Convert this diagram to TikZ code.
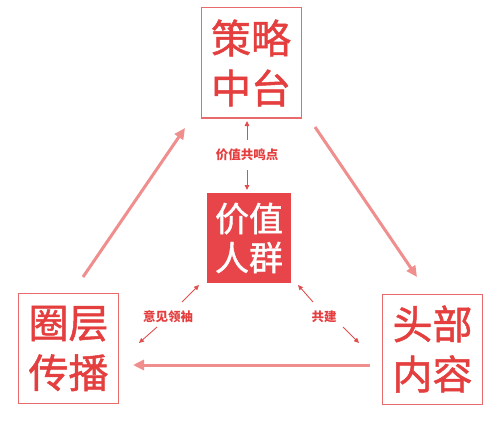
\documentclass[tikz,border=0pt]{standalone}
\usepackage{fontspec}
\newfontfamily\cjk[FakeBold=1.2]{Noto Sans CJK SC}
\newfontfamily\cjklab{Noto Sans CJK SC}
\usetikzlibrary{arrows.meta}
\definecolor{txtred}{HTML}{E53E3E}
\definecolor{boxred}{HTML}{E86A6A}
\definecolor{fillred}{HTML}{E8454A}
\definecolor{bigarr}{HTML}{F08E8E}
\definecolor{smallarr}{HTML}{E04E4E}
\tikzset{
  outer/.style={draw=boxred, line width=1pt, minimum width=100pt, minimum height=110pt, inner sep=0pt, text=txtred, align=center, font={\cjk\fontsize{40}{50}\selectfont}},
  inner/.style={fill=fillred, minimum width=84pt, minimum height=90pt, inner sep=0pt, text=white, align=center, font={\cjk\fontsize{34}{39}\selectfont}},
  lab/.style={text=txtred, inner sep=1pt, font={\cjklab\bfseries\fontsize{12.5}{14}\selectfont}},
  bigarrow/.style={draw=bigarr, line width=3pt, -{Triangle[length=11pt,width=10pt]}},
  smallarrow/.style={draw=smallarr, line width=0.9pt, -{Triangle[length=5pt,width=4.5pt]}}
}
\begin{document}
\begin{tikzpicture}[x=1pt,y=-1pt]
\useasboundingbox[fill=white] (0,0) rectangle (500,425);
\node[outer] (top) at (251,63) {策略\\中台};
\node[outer] (left) at (68.5,348.5) {圈层\\传播};
\node[outer] (right) at (432.5,349) {头部\\内容};
\node[inner] (mid) at (249,238) {价值\\人群};
% big cycle arrows
\coordinate (l1) at (83,277); \coordinate (l2) at (185,128);
\coordinate (r1) at (315,127); \coordinate (r2) at (417,277);
\coordinate (h1) at (370,365); \coordinate (h2) at (133,365);
\draw[bigarrow] (l1) -- (l2);
\draw[bigarrow] (r1) -- (r2);
\draw[bigarrow] (h1) -- (h2);
% labels
\node[lab] (lt) at (247,155) {价值共鸣点};
\node[lab] (ll) at (168,317) {意见领袖};
\node[lab] (lr) at (324,317) {共建};
% small arrows
\coordinate (t1) at (247,140); \coordinate (t2) at (247,121);
\coordinate (t3) at (247,170); \coordinate (t4) at (247,190);
\draw[smallarrow] (t1) -- (t2);
\draw[smallarrow] (t3) -- (t4);
\coordinate (a1) at (182,302); \coordinate (a2) at (199,285);
\coordinate (a3) at (157,327); \coordinate (a4) at (139,343);
\draw[smallarrow] (a1) -- (a2);
\draw[smallarrow] (a3) -- (a4);
\coordinate (b1) at (313,302); \coordinate (b2) at (298,285);
\coordinate (b3) at (343,327); \coordinate (b4) at (359,343);
\draw[smallarrow] (b1) -- (b2);
\draw[smallarrow] (b3) -- (b4);
\end{tikzpicture}
\end{document}
